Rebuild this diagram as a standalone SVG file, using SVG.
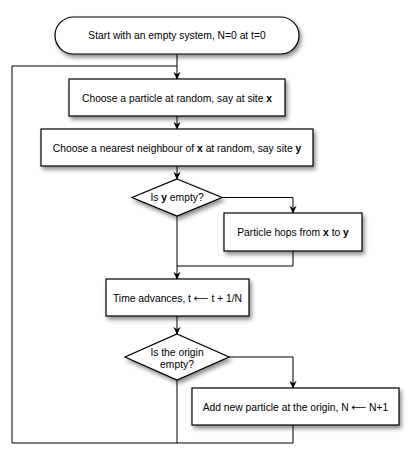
<svg xmlns="http://www.w3.org/2000/svg" width="415" height="455" viewBox="0 0 415 455">
<style>
.shape{fill:#fff;stroke:#000;stroke-width:1.2;filter:url(#sh)}
.ln{fill:none;stroke:#000;stroke-width:1}
text{font-family:"Liberation Sans","DejaVu Sans",Arial,sans-serif;font-size:10.3px;fill:#000;text-anchor:middle}
.b{font-weight:bold}
</style>
<defs>
<filter id="sh" x="-20%" y="-30%" width="140%" height="170%">
<feDropShadow dx="2" dy="3" stdDeviation="2" flood-color="#000" flood-opacity="0.45"/>
</filter>
<marker id="ah" viewBox="0 0 10 10" refX="9" refY="5" markerWidth="8" markerHeight="8" markerUnits="userSpaceOnUse" orient="auto">
<path d="M0,0.5 L10,5 L0,9.5 L3,5 Z" fill="#000"/>
</marker>
</defs>
<g id="connectors">
<path class="ln" d="M177,54 V79" marker-end="url(#ah)"/>
<path class="ln" d="M12,443 V66 H177"/>
<path class="ln" d="M177,116 V129" marker-end="url(#ah)"/>
<path class="ln" d="M177,166 V179" marker-end="url(#ah)"/>
<path class="ln" d="M222,197.5 H293 V213" marker-end="url(#ah)"/>
<path class="ln" d="M177,216 V279" marker-end="url(#ah)"/>
<path class="ln" d="M293,251 V266 H177"/>
<path class="ln" d="M177,316 V334" marker-end="url(#ah)"/>
<path class="ln" d="M229,357 H293 V388" marker-end="url(#ah)"/>
<path class="ln" d="M177,380 V443"/>
<path class="ln" d="M293,425 V443 H12"/>
</g>
<g id="start">
<rect class="shape" x="55" y="17" width="244" height="37" rx="18.5" ry="18.5"/>
<text x="177" y="39">Start with an empty system, N=0 at t=0</text>
</g>
<g id="choose-particle">
<rect class="shape" x="69" y="79" width="216" height="37"/>
<text x="177" y="101.5">Choose a particle at random, say at site <tspan class="b">x</tspan></text>
</g>
<g id="choose-neighbour">
<rect class="shape" x="41" y="129" width="272" height="37"/>
<text x="177" y="151.5">Choose a nearest neighbour of <tspan class="b">x</tspan> at random, say site <tspan class="b">y</tspan></text>
</g>
<g id="is-y-empty">
<path class="shape" d="M177,179 L222,197.5 L177,216 L132,197.5 Z"/>
<text x="177" y="201">Is <tspan class="b">y</tspan> empty?</text>
</g>
<g id="hop">
<rect class="shape" x="224" y="213" width="138" height="38"/>
<text x="293" y="235.5">Particle hops from <tspan class="b">x</tspan> to <tspan class="b">y</tspan></text>
</g>
<g id="time">
<rect class="shape" x="106" y="279" width="143" height="37"/>
<text x="177.5" y="301.5">Time advances, t ⟵ t + 1/N</text>
</g>
<g id="is-origin-empty">
<path class="shape" d="M177,334 L229,357 L177,380 L125,357 Z"/>
<text x="177" y="356">Is the origin</text>
<text x="177" y="368">empty?</text>
</g>
<g id="add">
<rect class="shape" x="192" y="388" width="207" height="37"/>
<text x="295.5" y="410.5">Add new particle at the origin, N ⟵ N+1</text>
</g>
</svg>
